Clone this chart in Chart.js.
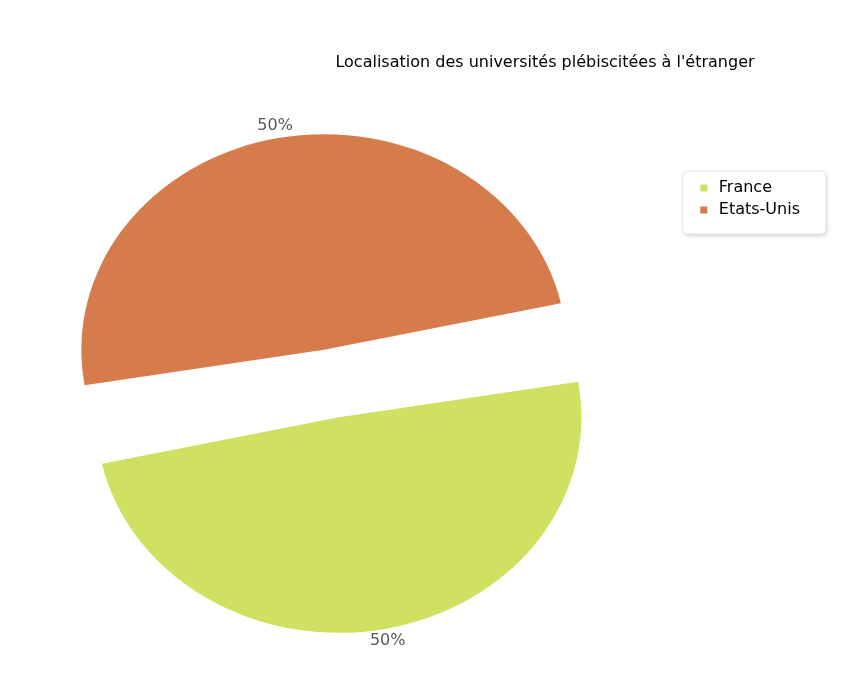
<!DOCTYPE html>
<html>
<head>
<meta charset="utf-8">
<script src="https://cdn.jsdelivr.net/npm/chart.js@4"></script>
<style>
  html, body { margin: 0; padding: 0; background: #ffffff; overflow: hidden; }
  /* le canevas deborde un peu a gauche pour centrer le camembert comme la reference */
  #cadre { position: absolute; left: -28px; top: 0; width: 870px; height: 673px; }
</style>
</head>
<body>
<div id="cadre"><canvas id="graphique"></canvas></div>
<script>
// donnees du graphique
var pays = ['France', 'Etats-Unis'];
var pourcentages = [50, 50];
var couleurs = ['rgb(208, 225, 98)', 'rgb(214, 124, 76)'];
var titre = "Localisation des universités plébiscitées à l'étranger";

var police = '"DejaVu Sans", sans-serif';
var etirement = 1.126; // le camembert de la reference est plus large que haut

// etire le camembert en largeur et ecrit les pourcentages
var pluginEllipse = {
    id: 'ellipse',
    beforeDatasetsDraw: function(chart) {
        var arc = chart.getDatasetMeta(0).data[0];
        var ctx = chart.ctx;
        ctx.save();
        ctx.translate(arc.x, arc.y);
        ctx.scale(etirement, 1);
        ctx.translate(-arc.x, -arc.y);
    },
    afterDatasetsDraw: function(chart) {
        var ctx = chart.ctx;
        ctx.restore();
        var meta = chart.getDatasetMeta(0);
        var valeurs = chart.data.datasets[0].data;
        var total = valeurs.reduce(function(a, b) { return a + b; }, 0);
        ctx.save();
        ctx.font = '16px ' + police;
        ctx.fillStyle = '#5a5a5a';
        ctx.textAlign = 'center';
        ctx.textBaseline = 'middle';
        meta.data.forEach(function(arc, i) {
            var p = arc.getProps(['x', 'y', 'startAngle', 'endAngle', 'outerRadius'], true);
            var milieu = (p.startAngle + p.endAngle) / 2;
            var r = p.outerRadius + arc.options.offset / 2 + 12;
            var x = p.x + Math.cos(milieu) * r * etirement;
            var y = p.y + Math.sin(milieu) * r;
            ctx.fillText(Math.round(valeurs[i] / total * 100) + '%', x, y);
        });
        ctx.restore();
    }
};

// le titre est centre au dessus de la droite du graphique
var pluginTitre = {
    id: 'placeTitre',
    afterLayout: function(chart) {
        var t = chart.titleBlock;
        var w = t.right - t.left;
        t.left = 573 - w / 2;
        t.right = t.left + w;
    }
};

// cadre arrondi avec ombre derriere la legende
var pluginCadre = {
    id: 'cadreLegende',
    beforeDraw: function(chart) {
        var boites = chart.legend.legendHitBoxes;
        if (!boites || !boites.length) return;
        var ctx = chart.ctx;
        var x0 = boites[0].left - 14;
        var y0 = boites[0].top - 9;
        var w = 143;
        var h = boites[boites.length - 1].top + 16 + 16 - y0;
        ctx.save();
        ctx.shadowColor = 'rgba(0, 0, 0, 0.18)';
        ctx.shadowBlur = 4;
        ctx.shadowOffsetX = 1;
        ctx.shadowOffsetY = 2;
        ctx.fillStyle = '#ffffff';
        ctx.beginPath();
        ctx.roundRect(x0, y0, w, h, 5);
        ctx.fill();
        ctx.shadowColor = 'transparent';
        ctx.strokeStyle = '#e6e6e6';
        ctx.lineWidth = 1;
        ctx.stroke();
        ctx.restore();
    }
};

var ctx = document.getElementById('graphique').getContext('2d');

var datos = {
    labels: pays,
    datasets: [{
        data: pourcentages,
        backgroundColor: couleurs,
        borderWidth: 0,
        offset: 138,
        radius: 181,
        clip: false
    }]
};

var configuration = {
    type: 'pie',
    data: datos,
    options: {
        responsive: true,
        maintainAspectRatio: false,
        animation: false,
        rotation: 79,
        layout: {
            padding: { left: 0, right: 32, top: 0, bottom: 80 }
        },
        plugins: {
            title: {
                display: true,
                text: titre,
                color: '#000000',
                font: { family: police, size: 16, weight: 'normal' },
                padding: { top: 53, bottom: 101.8 }
            },
            legend: {
                position: 'right',
                align: 'start',
                fullSize: false,
                labels: {
                    usePointStyle: true,
                    pointStyle: 'rect',
                    boxWidth: 14,
                    boxHeight: 7,
                    padding: 6,
                    color: '#000000',
                    font: { family: police, size: 16 }
                }
            }
        }
    },
    plugins: [pluginEllipse, pluginTitre, pluginCadre]
};

var graphique = new Chart(ctx, configuration);
</script>
</body>
</html>
